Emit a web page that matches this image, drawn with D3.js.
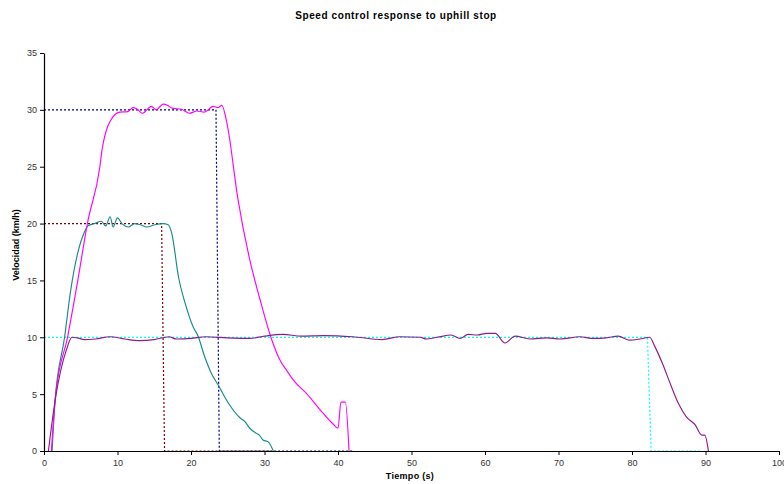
<!DOCTYPE html>
<html>
<head>
<meta charset="utf-8">
<script src="https://cdn.jsdelivr.net/npm/d3@7"></script>
<style>
  body { margin: 0; background: #fff; }
  svg { display: block; font-family: "Liberation Sans", Arial, sans-serif; }
</style>
</head>
<body>
<div id="chart"></div>
<script>
// ---- data (t in s, v in km/h) ----
var t30 = [1.0, 1.6, 3.2, 4.6, 5.9, 7.6, 7.9, 9.4, 10.3, 11.4, 12.1, 12.6, 13.4, 14.0, 14.6, 15.3, 15.8, 16.2, 16.8, 17.4, 18.7, 19.8, 20.8, 21.8, 23.0, 23.7, 24.2, 24.9, 26.4, 28.0, 29.4, 31.0, 32.1, 33.0, 34.1, 35.7, 38.0, 39.3, 40.0, 40.4, 41.0, 41.5];
var v30 = [0, 5.0, 10.0, 15.0, 20.0, 25.0, 26.5, 29.4, 29.8, 29.85, 30.2, 30.1, 29.7, 30.0, 30.3, 30.0, 30.3, 30.5, 30.4, 30.15, 30.05, 29.7, 29.9, 29.8, 30.3, 30.2, 30.4, 28.8, 22.1, 16.8, 13.3, 9.76, 8.0, 7.1, 6.1, 5.07, 3.3, 2.4, 2.0, 4.3, 4.3, 0];

var t20 = [1.1, 1.5, 2.8, 3.6, 4.7, 5.4, 6.0, 6.9, 7.8, 8.4, 9.0, 9.4, 10.0, 10.6, 11.5, 12.3, 13.1, 14.0, 15.1, 16.2, 16.9, 17.4, 18.3, 19.2, 20.3, 21.0, 21.7, 22.8, 23.7, 25.1, 26.7, 27.3, 28.0, 28.9, 29.3, 29.8, 30.5, 31.2];
var v20 = [0, 4.4, 10.0, 14.0, 17.7, 19.1, 19.8, 20.0, 20.2, 19.8, 20.6, 19.7, 20.5, 20.0, 19.7, 20.0, 19.9, 19.7, 19.9, 20.0, 19.9, 19.1, 15.3, 13.0, 10.9, 10.05, 8.6, 6.8, 5.8, 4.2, 2.9, 2.6, 2.0, 1.55, 1.4, 0.97, 0.8, 0];

var t10 = [0.6, 1.5, 3.1, 3.8, 4.5, 5.5, 7.0, 9.0, 11.0, 13.0, 15.0, 17.0, 18.0, 20.0, 22.0, 25.0, 28.0, 30.0, 32.5, 35.0, 38.0, 42.0, 46.0, 48.4, 51.2, 52.0, 53.5, 55.4, 56.6, 57.7, 59.0, 60.2, 61.4, 62.7, 64.1, 66.1, 68.4, 70.2, 72.9, 74.7, 76.5, 78.1, 79.7, 81.1, 82.4, 83.1, 84.2, 85.1, 86.3, 87.4, 88.6, 89.5, 89.9, 90.4];
var v10 = [0, 4.4, 9.0, 10.0, 9.95, 9.8, 9.85, 10.05, 9.85, 9.7, 9.8, 10.05, 9.85, 9.9, 10.05, 9.95, 9.9, 10.1, 10.25, 10.1, 10.15, 10.05, 9.8, 10.05, 10.0, 9.85, 10.0, 10.2, 9.9, 10.25, 10.2, 10.35, 10.35, 9.5, 10.1, 9.85, 9.95, 9.85, 10.05, 9.9, 9.95, 10.1, 9.75, 9.85, 10.0, 9.2, 7.6, 6.1, 4.2, 3.0, 2.3, 1.4, 1.4, 0];

// setpoint references (dotted)
var tRef30 = [0, 23.4, 23.85, 42];
var vRef30 = [30, 30, 0, 0];
var tRef20 = [0, 16.0, 16.4, 31];
var vRef20 = [20, 20, 0, 0];
var tRef10 = [0, 82.1, 82.6, 89.5];
var vRef10 = [10, 10, 0, 0];

var xTicks = [0, 10, 20, 30, 40, 50, 60, 70, 80, 90, 100];
var yTicks = [0, 5, 10, 15, 20, 25, 30, 35];

var width = 784, height = 484;
var margin = {left: 44, right: 5, top: 53, bottom: 33};

var svg = d3.select("#chart").append("svg")
    .attr("width", width).attr("height", height);

var x = d3.scaleLinear().domain([0, 100]).range([margin.left, width - margin.right]);
var y = d3.scaleLinear().domain([0, 35]).range([height - margin.bottom, margin.top]);

function pts(ts, vs) { return ts.map(function(t, i) { return [t, vs[i]]; }); }
var line = d3.line().x(function(d) { return x(d[0]); }).y(function(d) { return y(d[1]); });

// dotted references first
var refs = [
  {d: pts(tRef10, vRef10), c: "#00FFFF"},
  {d: pts(tRef20, vRef20), c: "#800000"},
  {d: pts(tRef30, vRef30), c: "#000080"}
];
svg.append("g").selectAll("path").data(refs).enter().append("path")
    .attr("d", function(r) { return line(r.d); })
    .attr("fill", "none")
    .attr("stroke", function(r) { return r.c; })
    .attr("stroke-width", 1.2)
    .attr("stroke-dasharray", "2,2");

// measured speeds
var series = [
  {d: pts(t20, v20), c: "#188A8A"},
  {d: pts(t30, v30), c: "#FF00FF"},
  {d: pts(t10, v10), c: "#8E1A8E"}
];
var curve = d3.line().x(function(d) { return x(d[0]); }).y(function(d) { return y(d[1]); }).curve(d3.curveMonotoneX);
svg.append("g").selectAll("path").data(series).enter().append("path")
    .attr("d", function(s) { return curve(s.d); })
    .attr("fill", "none")
    .attr("stroke", function(s) { return s.c; })
    .attr("stroke-width", 1.15);

// axes
var xAxis = svg.append("g")
    .attr("transform", "translate(0," + y(0) + ")")
    .call(d3.axisBottom(x).tickValues(xTicks).tickSize(4).tickSizeOuter(0));
var yAxis = svg.append("g")
    .attr("transform", "translate(" + x(0) + ",0)")
    .call(d3.axisLeft(y).tickValues(yTicks).tickSize(4).tickSizeOuter(0));

[xAxis, yAxis].forEach(function(a) {
  a.select(".domain").attr("stroke", "#000").attr("stroke-width", 1.2);
  a.selectAll(".tick line").attr("stroke", "#000");
  a.selectAll(".tick text").attr("fill", "#333").style("font-size", "9px")
    .style("font-family", "'Liberation Sans', Arial, sans-serif");
});
xAxis.selectAll(".tick text").attr("dy", "0.9em");

// title and axis labels
svg.append("text")
    .attr("x", 396).attr("y", 19)
    .attr("text-anchor", "middle")
    .style("font-size", "10px").style("font-weight", "bold")
    .style("letter-spacing", "0.6px")
    .text("Speed control response to uphill stop");

svg.append("text")
    .attr("x", 410).attr("y", 479)
    .attr("text-anchor", "middle")
    .style("font-size", "9px").style("font-weight", "bold")
    .style("letter-spacing", "0.3px")
    .text("Tiempo (s)");

svg.append("text")
    .attr("transform", "translate(19,245) rotate(-90)")
    .attr("text-anchor", "middle")
    .style("font-size", "9px").style("font-weight", "bold")
    .text("Velocidad (km/h)");
</script>
</body>
</html>
